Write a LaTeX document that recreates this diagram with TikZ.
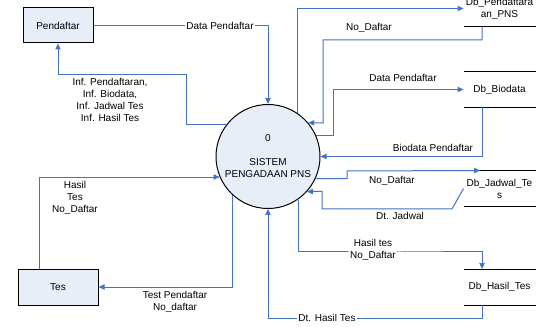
\documentclass[tikz,border=0pt]{standalone}
\usepackage{fontspec}
\setmainfont{Liberation Sans}
\usetikzlibrary{arrows.meta}
\definecolor{flowblue}{RGB}{68,114,196}
\definecolor{boxfill}{RGB}{232,238,248}
\tikzset{every picture/.style={line width=0.75pt}}

\begin{document}
\begin{tikzpicture}[x=0.75pt,y=0.75pt,yscale=-1,xscale=1,
    font=\fontsize{7.5}{9}\selectfont,
    entity/.style={draw=black, fill=boxfill, inner sep=0.75pt},
    store/.style={minimum width=53.25pt, minimum height=26.25pt, inner sep=0pt, align=center},
    flow/.style={draw=flowblue, line width=0.75pt, -{Triangle[length=4.5pt,width=4pt]}},
    lbl/.style={inner sep=0.75pt, align=center}]
    \useasboundingbox (0,0) rectangle (552,327);

    %External entities
    \node[entity, minimum width=52.5pt, minimum height=26.25pt] (pendaftar) at (58,25.5) {Pendaftar};
    \node[entity, minimum width=60pt, minimum height=27pt] (tes) at (58,287) {Tes};
    %Process
    \node[circle, draw=black, fill=boxfill, minimum size=78pt, inner sep=0pt, align=center] (sistem) at (268,156.5) {0\\[9pt]SISTEM\\PENGADAAN PNS};

    %Data stores
    \node[store] (dbpns) at (499.5,8.5) {Db\_Pendaftara\\an\_PNS};
    \node[store] (dbbio) at (499.5,89.5) {Db\_Biodata};
    \node[store] (dbjadwal) at (499.5,188.5) {Db\_Jadwal\_Te\\s};
    \node[store] (dbhasil) at (499.5,287) {Db\_Hasil\_Tes};
    \draw (dbpns.north west) -- (dbpns.north east) (dbpns.south west) -- (dbpns.south east);
    \draw (dbbio.north west) -- (dbbio.north east) (dbbio.south west) -- (dbbio.south east);
    \draw (dbjadwal.north west) -- (dbjadwal.north east) (dbjadwal.south west) -- (dbjadwal.south east);
    \draw (dbhasil.north west) -- (dbhasil.north east) (dbhasil.south west) -- (dbhasil.south east);

    %Ports
    \coordinate (pnsout) at ([xshift=-13.125pt]dbpns.south);
    \coordinate (bioout) at ([xshift=-13.125pt]dbbio.south);
    \coordinate (jadwalin) at ([xshift=-14.6pt]dbjadwal.north);
    \coordinate (hasilin) at ([xshift=-13.125pt]dbhasil.north);
    \coordinate (hasilout) at ([xshift=-13.125pt]dbhasil.south);
    \coordinate (tesout) at ([xshift=-14.25pt]tes.north);

    %Flows
    \draw[flow] (pendaftar.east) -| (sistem.north);
    \draw[flow] (sistem.142) -| (186,75) -| (pendaftar.south);
    \draw[flow] (sistem.56) |- (dbpns.west);
    \draw[flow] (pnsout) -- (482,40) -| (323,123) -- (sistem.40);
    \draw[flow] (sistem.23) -| (333,89.5) -- (dbbio.west);
    \draw[flow] (bioout) |- (sistem.east);
    \draw[flow] (sistem.-25) -| (347,171) -- (jadwalin);
    \draw[flow] (dbjadwal.west) -- (452,209) -| (322,191.3) -- (sistem.-42);
    \draw[flow] (sistem.-55) |- (400,252) -| (hasilin);
    \draw[flow] (hasilout) -- (482,318) -| (sistem.south);
    \draw[flow] (tesout) |- (sistem.203);
    \draw[flow] (sistem.227) |- (tes.east);

    % Text Node
    \node[lbl, fill=white] (lDataPendaftar) at (220,26) {Data Pendaftar};
    \node[lbl] (lInformasi) at (110,99.5) {Inf. Pendaftaran,\\Inf. Biodata,\\Inf. Jadwal Tes\\Inf. Hasil Tes};
    \node[lbl] (lNoDaftarA) at (369,28) {No\_Daftar};
    \node[lbl] (lDataBio) at (403,78) {Data Pendaftar};
    \node[lbl] (lBiodata) at (433,148) {Biodata Pendaftar};
    \node[lbl] (lNoDaftarB) at (392,181) {No\_Daftar};
    \node[lbl] (lJadwal) at (400,216) {Dt. Jadwal};
    \node[lbl, fill=white] (lHasilTes) at (373,250) {Hasil tes\\No\_Daftar};
    \node[lbl, fill=white] (lDtHasil) at (327,318) {Dt. Hasil Tes};
    \node[lbl] (lHasil) at (75,198) {Hasil\\Tes\\No\_Daftar};
    \node[lbl] (lTest) at (175,302) {Test Pendaftar\\No\_daftar};

\end{tikzpicture}
\end{document}
